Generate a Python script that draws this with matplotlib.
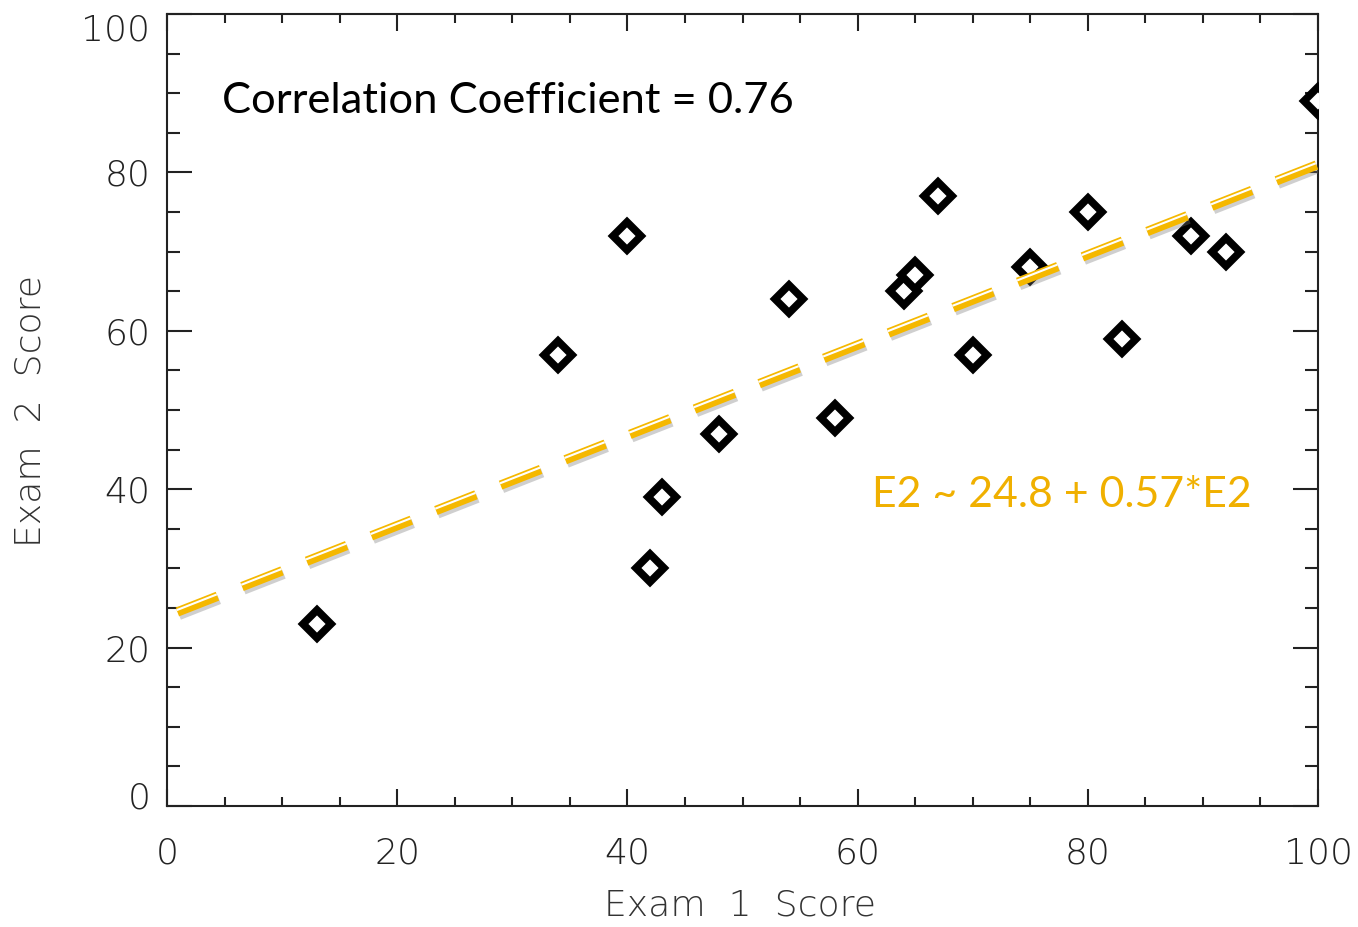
import matplotlib
matplotlib.use("Agg")
import matplotlib.pyplot as plt
import matplotlib.patheffects as pe
import matplotlib.transforms as mtransforms
from matplotlib.ticker import MultipleLocator

plt.rcParams['lines.scale_dashes'] = False

# Data
exam1 = [13, 34, 40, 42, 43, 48, 54, 58, 64, 65, 67, 70, 75, 80, 83, 89, 92, 100]
exam2 = [23, 57, 72, 30, 39, 47, 64, 49, 65, 67, 77, 57, 68, 75, 59, 72, 70, 89]
fit_x = [0.9, 100]
fit_y = [24.5, 81.0]
tick_vals = [0, 20, 40, 60, 80, 100]
corr_text = "Correlation Coefficient = 0.76"
eq_text = "E2 ~ 24.8 + 0.57*E2"

fig = plt.figure(figsize=(13.58, 9.27), dpi=100)
ax = fig.add_axes([167/1358, 1-806/927, 1151/1358, 792/927])

ax.plot(exam1, exam2, linestyle='none', marker='D', markersize=14,
        markerfacecolor='white', markeredgecolor='black', markeredgewidth=5.5,
        zorder=3)

ln, = ax.plot(fit_x, fit_y, color='#F5B800', linewidth=6.8, solid_capstyle='butt',
              dash_capstyle='butt', zorder=4)
ln.set_dashes((31, 19))
ln.set_path_effects([
    pe.SimpleLineShadow(offset=(1.3, -2.4), shadow_color='#777777', alpha=0.35),
    pe.Normal(),
    pe.Stroke(linewidth=1.5, foreground='white', offset=(-0.5, 1.3)),
])

ax.set_xlim(0, 100)
ax.set_ylim(0, 100)
ax.set_xticks(tick_vals)
ax.set_yticks(tick_vals)
ax.xaxis.set_minor_locator(MultipleLocator(5))
ax.yaxis.set_minor_locator(MultipleLocator(5))

tick_font = dict(family='DejaVu Sans', weight='ultralight')
ax.set_xticklabels([str(v) for v in tick_vals], fontsize=26, color='#222222', **tick_font)
ax.set_yticklabels([str(v) for v in tick_vals], fontsize=26, color='#222222', **tick_font)

ax.tick_params(axis='x', which='major', direction='in', length=12, width=1.5,
               top=True, pad=22, colors='#222222')
ax.tick_params(axis='x', which='minor', direction='in', length=6.5, width=1.5,
               top=True, colors='#222222')
ax.tick_params(axis='y', which='major', direction='in', length=18, width=1.5,
               right=True, pad=12, colors='#222222')
ax.tick_params(axis='y', which='minor', direction='in', length=9.5, width=1.5,
               right=True, colors='#222222')
for s in ax.spines.values():
    s.set_linewidth(1.5)
    s.set_color('#222222')

# shift end y labels inward like the original
ylabels = ax.get_yticklabels()
ylabels[0].set_transform(ylabels[0].get_transform() +
                         mtransforms.ScaledTranslation(0, 11/100, fig.dpi_scale_trans))
ylabels[-1].set_transform(ylabels[-1].get_transform() +
                          mtransforms.ScaledTranslation(0, -13/100, fig.dpi_scale_trans))

ax.set_xlabel("Exam  1  Score", fontsize=26, color='#333333', **tick_font)
ax.set_ylabel("Exam  2  Score", fontsize=26, color='#333333', **tick_font)
ax.xaxis.label.set_va('center')
ax.yaxis.label.set_va('center')
ax.xaxis.set_label_coords(0.498, -0.126)
ax.yaxis.set_label_coords(-0.119, 0.499)

ax.text((222-167)/1151, (806-113)/792, corr_text, transform=ax.transAxes,
        fontsize=31.3, family='Lato', color='black', ha='left', va='baseline')
ax.text((872-167)/1151, (806-495)/792, eq_text, transform=ax.transAxes,
        fontsize=30.8, family='Lato', color='#F0B000', ha='left', va='center')

fig.savefig("out.png", dpi=100)
